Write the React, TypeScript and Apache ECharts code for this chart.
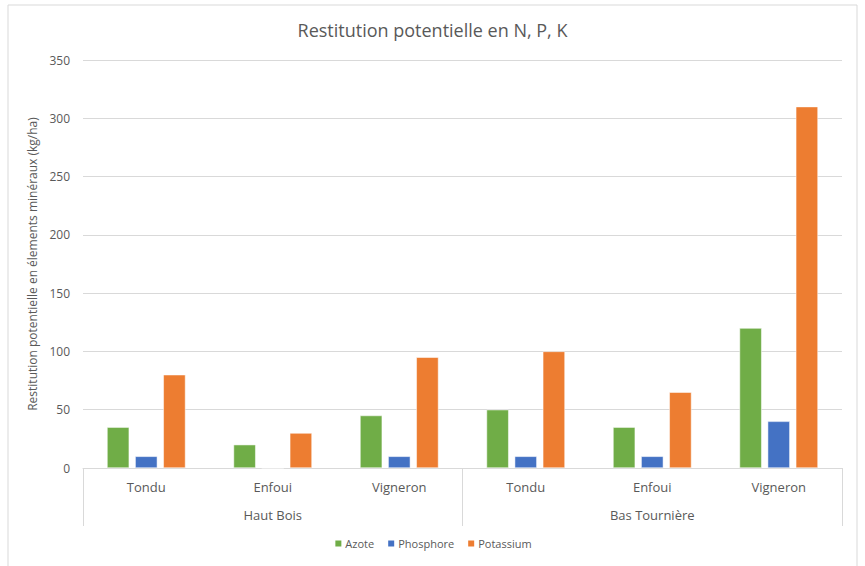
import React, { useEffect, useRef } from "react";
import * as echarts from "echarts";

const categories = ["Tondu", "Enfoui", "Vigneron", "Tondu", "Enfoui", "Vigneron"];
const groups = ["Haut Bois", "Bas Tournière"];
const azote = [35, 20, 45, 50, 35, 120];
const phosphore = [10, 0, 10, 10, 10, 40];
const potassium = [80, 30, 95, 100, 65, 310];
const yTicks = { min: 0, max: 350, interval: 50 };

const FONT = "'Open Sans', 'Noto Sans', sans-serif";
const TXT = "#595959";
const LINE = "#d9d9d9";

export default function App() {
  const ref = useRef<HTMLDivElement>(null);
  useEffect(() => {
    if (!ref.current) return;
    const chart = echarts.init(ref.current, undefined, { renderer: "svg" });
    chart.setOption({
      animation: false,
      backgroundColor: "#ffffff",
      textStyle: { fontFamily: FONT },
      title: {
        text: "Restitution potentielle en N, P, K",
        left: "center",
        top: 16,
        textStyle: { fontFamily: FONT, fontSize: 18, fontWeight: "normal", color: TXT },
      },
      graphic: [
        {
          type: "rect",
          shape: { x: 8, y: 5, width: 849, height: 570 },
          style: { fill: "none", stroke: "#d9d9d9", lineWidth: 1 },
          silent: true,
        },
      ],
      legend: {
        bottom: 12,
        left: "center",
        itemWidth: 8,
        itemHeight: 8,
        itemGap: 12,
        icon: "rect",
        textStyle: { fontFamily: FONT, fontSize: 11, color: TXT, padding: [0, 0, 0, -2] },
        data: ["Azote", "Phosphore", "Potassium"],
      },
      grid: { left: 83, right: 23, top: 60, bottom: 98, containLabel: false },
      xAxis: [
        {
          type: "category",
          data: categories,
          position: "bottom",
          axisLine: { show: true, lineStyle: { color: LINE } },
          axisTick: { show: false },
          axisLabel: { color: TXT, fontSize: 13, margin: 12, fontFamily: FONT, interval: 0 },
        },
        {
          type: "category",
          data: groups,
          position: "bottom",
          axisLine: { show: false },
          axisTick: { show: true, length: 58, lineStyle: { color: LINE } },
          axisLabel: { color: TXT, fontSize: 13, margin: 40, fontFamily: FONT, interval: 0 },
        },
      ],
      yAxis: {
        type: "value",
        min: yTicks.min,
        max: yTicks.max,
        interval: yTicks.interval,
        name: "Restitution potentielle en élements minéraux (kg/ha)",
        nameLocation: "middle",
        nameGap: 45,
        nameTextStyle: { color: TXT, fontSize: 12, fontFamily: FONT },
        axisLine: { show: false },
        axisTick: { show: false },
        axisLabel: { color: TXT, fontSize: 12, margin: 13, fontFamily: FONT },
        splitLine: { lineStyle: { color: LINE } },
      },
      series: [
        {
          name: "Azote",
          type: "bar",
          data: azote,
          xAxisIndex: 0,
          itemStyle: { color: "#70AD47", borderColor: "#ffffff", borderWidth: 0.5 },
          barGap: "27%",
          barCategoryGap: "38%",
        },
        {
          name: "Phosphore",
          type: "bar",
          data: phosphore,
          xAxisIndex: 0,
          itemStyle: { color: "#4472C4", borderColor: "#ffffff", borderWidth: 0.5 },
          barGap: "27%",
          barCategoryGap: "38%",
        },
        {
          name: "Potassium",
          type: "bar",
          data: potassium,
          xAxisIndex: 0,
          itemStyle: { color: "#ED7D31", borderColor: "#ffffff", borderWidth: 0.5 },
          barGap: "27%",
          barCategoryGap: "38%",
        },
      ],
    });
    return () => chart.dispose();
  }, []);
  return (
    <div
      ref={ref}
      style={{ position: "absolute", left: 0, top: 0, width: 865, height: 566 }}
    />
  );
}
